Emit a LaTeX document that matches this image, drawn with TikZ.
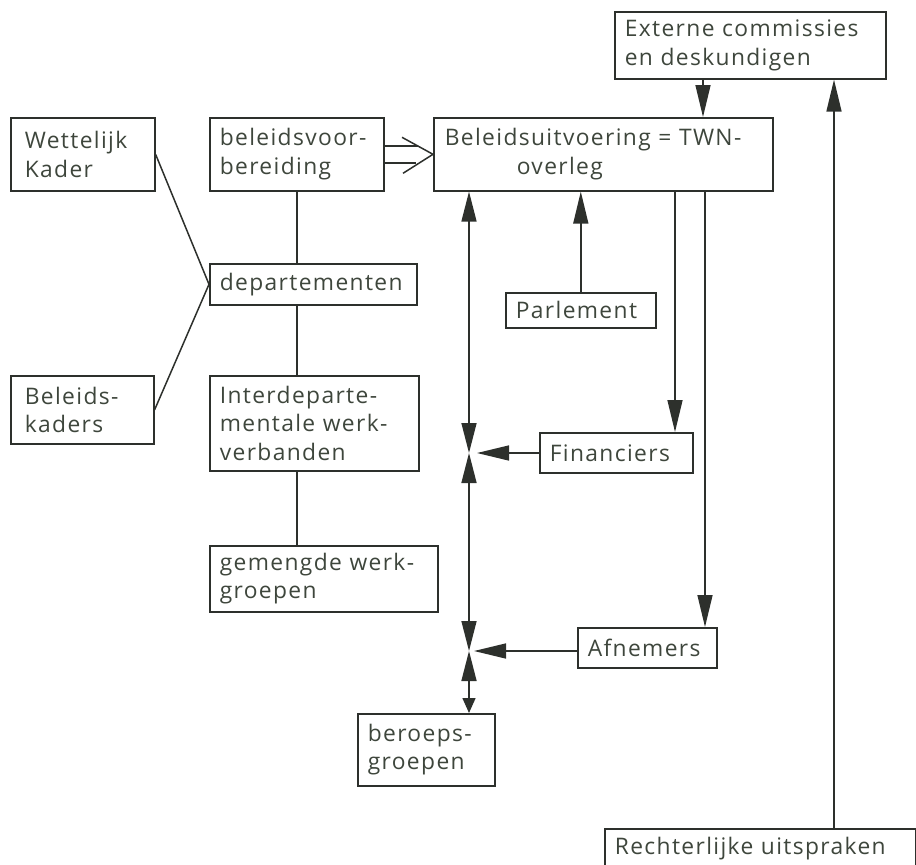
\documentclass[tikz,border=0pt]{standalone}
\usepackage{fontspec}
\setmainfont{Open Sans}[LetterSpace=6]
\usetikzlibrary{arrows.meta,calc}
\definecolor{ink}{RGB}{45,48,44}
\definecolor{txt}{RGB}{62,70,60}
\tikzset{
  box/.style={draw=ink, line width=1.6pt, anchor=north west, inner xsep=10pt, inner ysep=0pt,
    align=left, text=txt, font=\fontsize{22.8}{28.5}\selectfont},
  conn/.style={draw=ink, line width=1.5pt},
  tip/.style={-{Triangle[length=32pt,width=15pt]}},
  tips/.style={{Triangle[length=30pt,width=15pt]}-{Triangle[length=30pt,width=15pt]}}
}
\begin{document}
\begin{tikzpicture}[x=1pt,y=-1pt]
\useasboundingbox (0,0) rectangle (916,865);
% boxes
\node[box, minimum width=271pt, minimum height=67pt, text width=251pt] (ext) at (614,11) {Externe commissies\\en deskundigen};
\node[box, minimum width=339pt, minimum height=73pt, text width=317pt, inner xsep=11pt] (uitv) at (433,117) {\mbox{Beleidsuitvoering = TWN-}\\\hspace*{72pt}overleg};
\node[box, minimum width=144pt, minimum height=73pt, text width=124pt, inner xsep=10pt] (wet) at (10,117) {\hspace*{4pt}Wettelijk\\\hspace*{4pt}Kader};
\node[box, minimum width=174pt, minimum height=73pt, text width=154pt] (voor) at (209,117) {beleidsvoor-\\bereiding};
\node[box, minimum width=207pt, minimum height=41pt, text width=187pt] (dep) at (209,263) {departementen};
\node[box, minimum width=143pt, minimum height=68pt, text width=123pt] (bel) at (10,375) {\hspace*{4pt}Beleids-\\\hspace*{4pt}kaders};
\node[box, minimum width=209pt, minimum height=95pt, text width=189pt] (inter) at (209,375) {Interdeparte-\\mentale werk-\\verbanden};
\node[box, minimum width=228pt, minimum height=66pt, text width=208pt] (gem) at (209,545) {gemengde werk-\\groepen};
\node[box, minimum width=150pt, minimum height=35pt, text width=130pt] (parl) at (505,292) {Parlement};
\node[box, minimum width=153pt, minimum height=40pt, text width=133pt] (fin) at (539,432) {Financiers};
\node[box, minimum width=139pt, minimum height=40pt, text width=119pt] (afn) at (577,627) {Afnemers};
\node[box, minimum width=137pt, minimum height=72pt, text width=117pt] (ber) at (357,713) {beroeps-\\groepen};
\node[box, minimum width=311pt, minimum height=40pt, text width=291pt] (recht) at (604,828) {\mbox{Rechterlijke uitspraken}};
% helper coordinates
\coordinate (xa) at (703,0);
\coordinate (xr) at (834,0);
\coordinate (xf) at (675,0);
\coordinate (xn) at (705,0);
\coordinate (j1) at (469,453);
\coordinate (j2) at (469,651);
% left tree
\draw[conn] (voor.south) -- (voor.south |- dep.north);
\draw[conn] (voor.south |- dep.south) -- (voor.south |- inter.north);
\draw[conn] (voor.south |- inter.south) -- (voor.south |- gem.north);
\draw[conn] (wet.east) -- (dep.west);
\draw[conn] (bel.east) -- (dep.west);
% double arrow
\draw[conn] ($(voor.east)+(0,-8.5)$) -- ++(33,0);
\draw[conn] ($(voor.east)+(0,8.5)$) -- ++(31,0);
\draw[conn] ($(uitv.west)+(-31,-17)$) -- (uitv.west) -- ($(uitv.west)+(-30,19)$);
% arrows
\draw[conn,tip] (xa |- ext.south) -- (xa |- uitv.north);
\draw[conn,tip] (xr |- recht.north) -- (xr |- ext.south);
\draw[conn,tip] (parl.north) -- (parl.north |- uitv.south);
\draw[conn,tip] (xf |- uitv.south) -- (xf |- fin.north);
\draw[conn,tip] (xn |- uitv.south) -- (xn |- afn.north);
\draw[conn,tips] (j1 |- uitv.south) -- (j1);
\draw[conn,tips] (j1) -- (j2);
\draw[conn,{Triangle[length=30pt,width=15pt]}-{Triangle[length=15pt,width=13pt]}] (j2) -- (j2 |- ber.north);
\draw[conn,tip,shorten >=8pt] (fin.west |- j1) -- (j1);
\draw[conn,tip,shorten >=5pt] (afn.west |- j2) -- (j2);
\end{tikzpicture}
\end{document}
